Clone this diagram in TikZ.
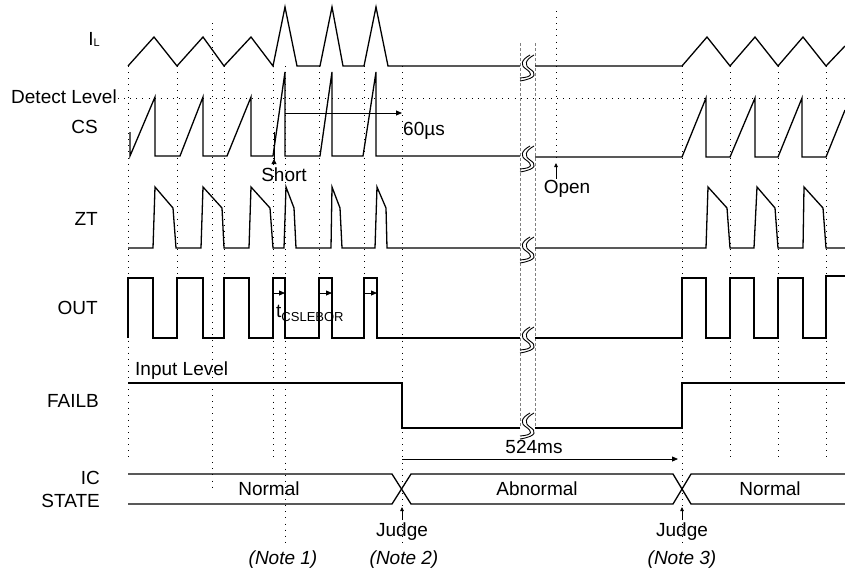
\documentclass[tikz,border=0pt]{standalone}
\usepackage{fontspec}
\setmainfont{Liberation Sans}
\usetikzlibrary{arrows.meta}
\begin{document}
\begin{tikzpicture}[x=1pt,y=-1pt,
  sig/.style={line width=1.3pt, line join=miter},
  grid/.style={line width=0.9pt, dash pattern=on 0.9pt off 5.2pt},
  brkline/.style={gray, line width=0.9pt, dash pattern=on 3pt off 2pt},
  lbl/.style={font=\fontsize{19}{21}\selectfont, inner sep=0pt},
  note/.style={font=\fontsize{19}{21}\selectfont\itshape, inner sep=0pt},
  arr/.style={line width=0.8pt, -{Triangle[length=6pt,width=5pt]}},
  sarr/.style={line width=0.8pt, -{Triangle[length=4pt,width=3.5pt]}},
  brk/.pic={
    \draw[line width=0.9pt] (10,-11) .. controls (1,-6) and (0,-1) .. (6,3) .. controls (12,7) and (14,11) .. (0,12);
    \draw[line width=0.9pt] (14,-11) .. controls (5,-6) and (4,-1) .. (10,3) .. controls (16,7) and (18,12) .. (0,15);
  }]
\useasboundingbox (0,0) rectangle (845,574);

% ---- grid dotted lines ----
\draw[grid] (118,98) -- (845,98);
\draw[grid] (128,66) -- (128,457);
\draw[grid] (177,66) -- (177,338);
\draw[grid] (212,23) -- (212,492);
\draw[grid] (224,66) -- (224,338);
\draw[grid] (273,66) -- (273,457);
\draw[grid] (285,66) -- (285,545);
\draw[grid] (319,66) -- (319,338);
\draw[grid] (364,66) -- (364,338);
\draw[grid] (402,66) -- (402,545);
\draw[grid] (556,11) -- (556,160);
\draw[grid] (682,66) -- (682,545);
\draw[grid] (730,66) -- (730,458);
\draw[grid] (778,66) -- (778,458);
\draw[grid] (826,66) -- (826,458);

% ---- break dashed lines ----
\draw[brkline] (520,43) -- (520,428);
\draw[brkline] (535,43) -- (535,428);

% ---- IL ----
\draw[sig] (128,66)--(154,37)--(177,66)--(203,37)--(224,66)--(251,37)--(273,66)--(285,7)--(297,66)--(320,66)--(332,7)--(343,66)--(364,66)--(376,7)--(388,66)--(520,66);
\draw[sig] (535,66)--(682,66)--(707,37)--(730,66)--(755,37)--(778,66)--(803,37)--(826,66)--(845,46);
\pic at (520,66) {brk};

% ---- CS ----
\draw[sig] (130,132)--(130,156)--(155,97)--(155,156)--(180,156)--(203,97)--(203,156)--(227,156)--(251,97)--(251,156)--(273,156)--(285,72)--(285,156)--(320,156)--(332,72)--(332,156)--(363,156)--(376,72)--(376,156)--(520,156);
\draw[sig] (535,157)--(682,157)--(706,98)--(706,157)--(730,157)--(755,98)--(755,157)--(778,157)--(802,98)--(802,157)--(826,157)--(845,110);
\pic at (520,157) {brk};

% ---- ZT ----
\draw[sig] (128,248)--(153,248)--(155,187)--(173,208)--(176,248)--(201,248)--(203,187)--(222,208)--(224,248)--(249,248)--(251,187)--(270,208)--(273,248)--(284,248)--(286,187)--(294,208)--(296,248)--(331,248)--(332,187)--(340,208)--(342,248)--(375,248)--(377,187)--(386,208)--(387,248)--(520,248);
\draw[sig] (535,248)--(706,248)--(708,187)--(727,208)--(730,248)--(754,248)--(757,187)--(775,208)--(778,248)--(803,248)--(804,187)--(823,208)--(826,248)--(845,248);
\pic at (520,248) {brk};

% ---- OUT ----
\draw[sig] (128,338)--(128,278)--(153,278)--(153,338)--(177,338)--(177,278)--(203,278)--(203,338)--(224,338)--(224,278)--(249,278)--(249,338)--(273,338)--(273,278)--(285,278)--(285,338)--(319,338)--(319,278)--(332,278)--(332,338)--(364,338)--(364,278)--(377,278)--(377,338)--(520,338);
\draw[sig] (535,338)--(682,338)--(682,278)--(706,278)--(706,338)--(730,338)--(730,278)--(754,278)--(754,338)--(778,338)--(778,278)--(803,278)--(803,338)--(826,338)--(826,276)--(845,276);
\pic at (520,338) {brk};

% ---- FAILB ----
\draw[sig] (128,383)--(402,383)--(402,428)--(520,428);
\draw[sig] (535,428)--(682,428)--(682,383)--(845,383);
\pic at (520,424) {brk};

% ---- IC STATE ----
\draw[sig] (128,474)--(392,474)--(411,504)--(673,504)--(691,474)--(845,474);
\draw[sig] (128,504)--(392,504)--(411,474)--(673,474)--(691,504)--(845,504);

% ---- left labels ----
\node[lbl, anchor=base east] (lIL) at (100,45) {I\raisebox{-1pt}{\fontsize{11}{12}\selectfont L}};
\node[lbl, anchor=base east] (lDL) at (117,103) {Detect Level};
\node[lbl, anchor=base east] (lCS) at (98,133) {CS};
\node[lbl, anchor=base east] (lZT) at (98,225) {ZT};
\node[lbl, anchor=base east] (lOUT) at (98,314) {OUT};
\node[lbl, anchor=base east] (lFB) at (99,407) {FAILB};
\node[lbl, anchor=base east] (lIC) at (100,484) {IC};
\node[lbl, anchor=base east] (lST) at (100,507) {STATE};

% ---- other labels ----
\node[lbl, anchor=base west] (inlev) at (135,375) {Input Level};
\node[lbl, anchor=base] (st1) at (269,495) {Normal};
\node[lbl, anchor=base] (st2) at (537,495) {Abnormal};
\node[lbl, anchor=base] (st3) at (770,495) {Normal};
\node[lbl, anchor=base] (short) at (284,181) {Short};
\node[lbl, anchor=base] (open) at (567,193) {Open};
\node[lbl, anchor=base west] (t60) at (403,135) {60µs};
\node[lbl, anchor=base] (t524) at (534,453) {524ms};
\node[lbl, anchor=base west] (tcs) at (276,317) {t\raisebox{-4pt}{\fontsize{13}{14}\selectfont CSLEBOR}};
\node[lbl, anchor=base] (j1) at (402,536) {Judge};
\node[lbl, anchor=base] (j2) at (682,536) {Judge};
\node[note, anchor=base] (n1) at (283,564) {(Note 1)};
\node[note, anchor=base] (n2) at (404,564) {(Note 2)};
\node[note, anchor=base] (n3) at (682,564) {(Note 3)};

% ---- arrows ----
\coordinate (a60s) at (285,113);
\coordinate (a60e) at (402,113);
\draw[arr] (a60s) -- (a60e);
\coordinate (a524s) at (402,459);
\coordinate (a524e) at (678,459);
\draw[arr] (a524s) -- (a524e);
\coordinate (tA1) at (273,293); \coordinate (tB1) at (285,293);
\coordinate (tA2) at (319,293); \coordinate (tB2) at (332,293);
\coordinate (tA3) at (364,293); \coordinate (tB3) at (377,293);
\draw[arr] (tA1) -- (tB1);
\draw[arr] (tA2) -- (tB2);
\draw[arr] (tA3) -- (tB3);
\coordinate (shtop) at (274,132);
\coordinate (shbot) at (274,164);
\draw[line width=0.8pt, {Triangle[reversed,length=5pt,width=5pt]}-] (shbot) -- (shtop);
\coordinate (optip) at (556,163);
\draw[sarr] (open.north -| optip) ++(0,-1) -- (optip);
\coordinate (j1tip) at (402,507);
\coordinate (j2tip) at (682,507);
\draw[sarr] (j1.north) ++(0,-2) -- (j1tip);
\draw[sarr] (j2.north) ++(0,-2) -- (j2tip);
\end{tikzpicture}
\end{document}
